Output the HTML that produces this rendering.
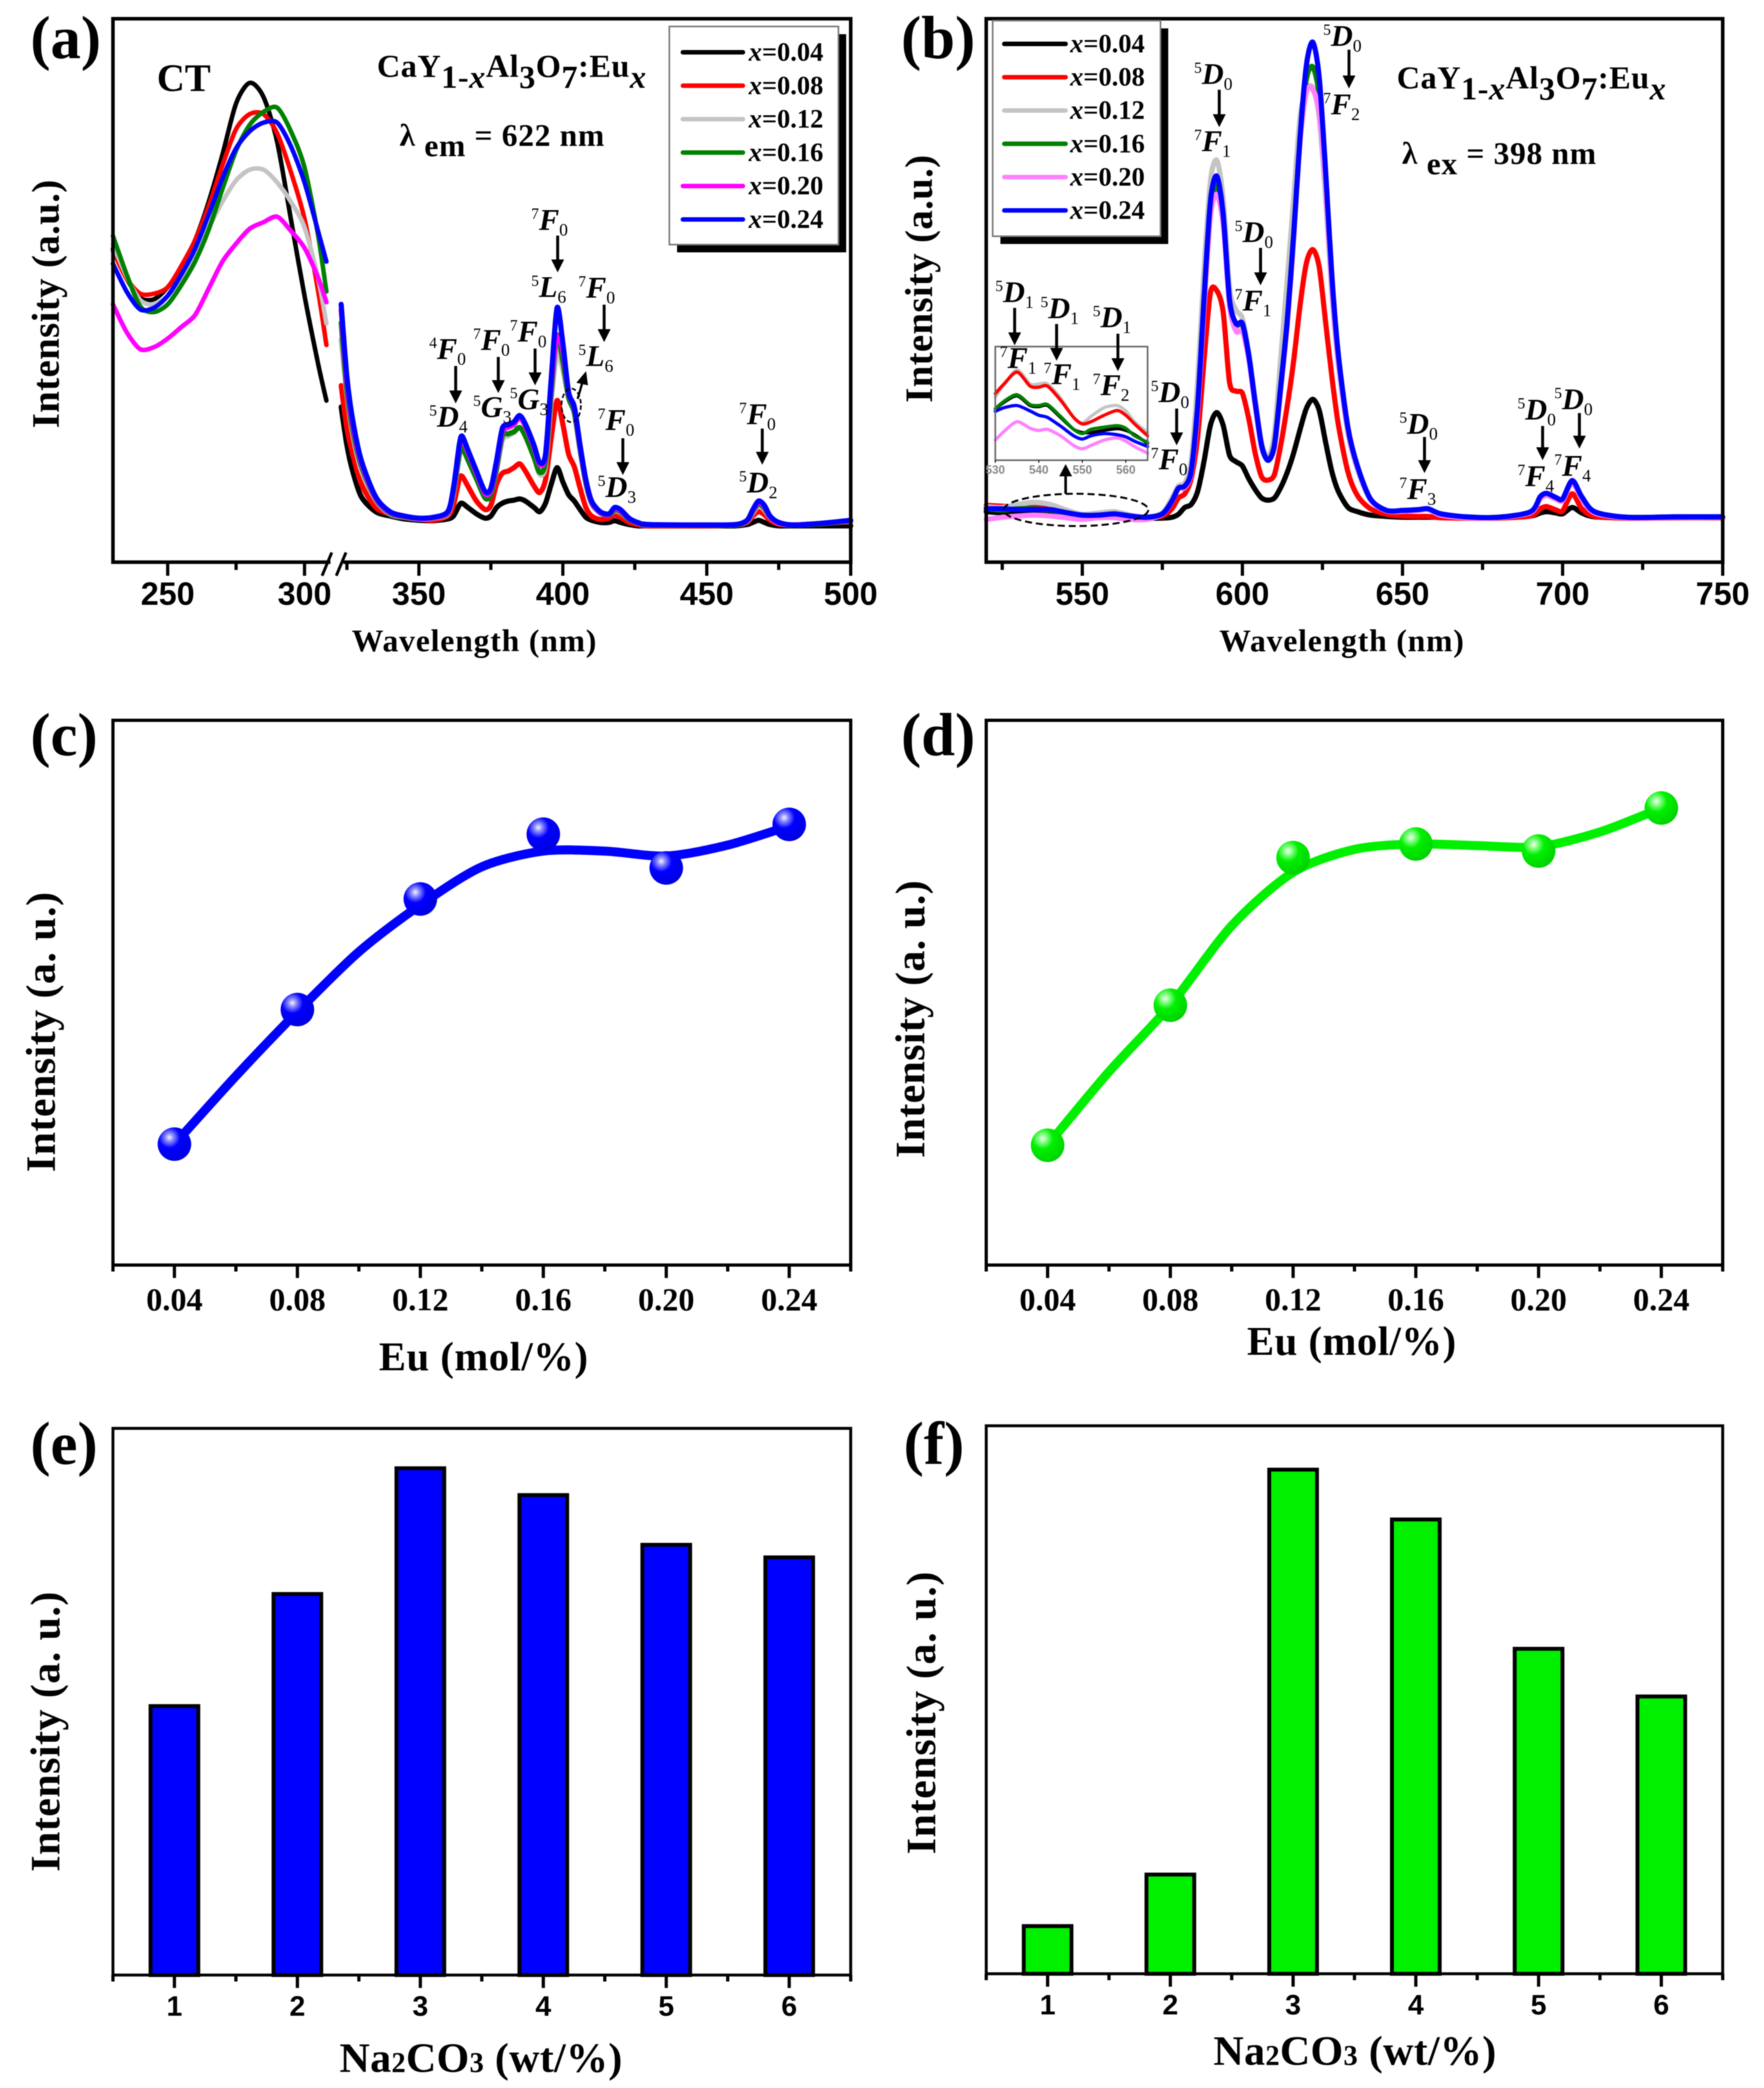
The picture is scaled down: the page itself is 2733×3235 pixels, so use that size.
<!DOCTYPE html>
<html lang="en">
<head>
<meta charset="utf-8">
<title>CaY1-xAl3O7:Eux luminescence figure</title>
<style>
html,body{margin:0;padding:0;background:#fff;width:2733px;height:3235px;overflow:hidden}
svg{display:block;filter:blur(0.9px)}
text{font-family:"Liberation Serif",serif;font-weight:bold;fill:#000;white-space:pre}
.sans{font-family:"Liberation Sans",sans-serif}
</style>
</head>
<body>
<svg id="figure" xmlns="http://www.w3.org/2000/svg" width="2733" height="3235" viewBox="0 0 2733 3235">
<defs>
<radialGradient id="ballBlue" cx="0.35" cy="0.3" r="0.75">
<stop offset="0" stop-color="#f4f4ff"/><stop offset="0.16" stop-color="#8c8cff"/><stop offset="0.42" stop-color="#0000ff"/><stop offset="1" stop-color="#0000dd"/>
</radialGradient>
<radialGradient id="ballGreen" cx="0.35" cy="0.3" r="0.75">
<stop offset="0" stop-color="#f4fff4"/><stop offset="0.16" stop-color="#8cff8c"/><stop offset="0.42" stop-color="#00f000"/><stop offset="1" stop-color="#00d000"/>
</radialGradient>
</defs>
</svg>
<script>
// ---------- shared series metadata ----------
const seriesLabels = ['0.04','0.08','0.12','0.16','0.20','0.24'];

// ---------- panel (a): excitation spectra ----------
const aTicksMajor = [250,300,350,400,450,500];
const aTicksMinor = [275,325,375,425,475];
const aWaveLeft = [230,235,240,245,250,255,260,265,270,275,280,285,290,295,300,305,308];
const aBlackLeft = [733,663,618,615,643,688,753,843,953,1073,1121,1088,983,803,623,463,378];
const aRedLeft = [728,663,628,628,643,693,753,833,928,1013,1048,1048,1003,913,803,633,508];
const aGrayLeft = [743,668,613,603,623,663,723,783,843,893,918,918,888,843,783,663,558];
const aGreenLeft = [763,673,598,585,603,648,703,778,873,963,1023,1053,1063,1008,923,763,633];
const aMagentaLeft = [603,538,498,503,523,550,578,640,703,745,780,795,808,775,735,665,608];
const aBlueLeft = [698,633,591,595,623,673,733,813,898,968,1008,1028,1028,973,888,773,703];
const aWaveRight = [323,325,327,330,335,340,345,350,355,360,362,364,365,367,370,373,375,377,379,381,383,385,387,390,392,394,396,398,400,402,404,406,408,410,413,416,418,420,423,426,430,450,460,464,466,468,470,472,475,480,490,500];
const aBlackRight = [363,273,213,153,118,108,101,98,97,101,108,133,138,128,113,103,108,128,138,143,145,148,143,128,118,138,183,221,188,158,143,123,105,98,93,93,97,93,88,85,85,85,85,88,93,98,93,88,85,85,85,85];
const aRedRight = [413,313,253,183,128,113,105,101,98,108,133,193,201,178,143,123,133,183,208,213,221,230,213,178,163,193,293,378,323,253,223,173,128,108,100,103,110,105,93,88,85,85,87,93,108,118,111,98,89,87,91,95];
const aGrayRight = [520,390,300,215,145,112,105,101,103,112,160,245,265,240,195,150,158,215,285,295,303,315,295,245,205,225,380,490,450,385,350,262,185,138,115,110,120,116,100,91,87,86,87,95,115,132,122,104,91,87,90,96];
const aGreenRight = [560,400,310,225,148,114,106,102,104,114,165,250,270,240,195,150,158,220,295,300,305,315,295,245,210,235,400,530,470,385,350,262,185,138,115,110,122,118,100,91,87,86,87,96,118,136,126,105,92,87,90,97];
const aMagentaRight = [590,420,322,232,150,116,107,102,104,116,170,268,288,258,208,160,168,232,305,315,322,338,318,268,228,248,420,525,495,395,360,268,190,140,116,112,126,120,102,92,88,87,88,97,120,140,130,106,92,87,91,97];
const aBlueRight = [603,433,333,238,153,118,108,103,105,118,173,273,295,263,213,165,173,238,313,321,328,343,323,273,233,253,433,595,513,398,363,273,193,143,118,113,128,123,103,93,88,87,88,98,123,143,133,108,93,87,91,98];

// ---------- panel (b): emission spectra ----------
const bTicksMajor = [550,600,650,700,750];
const bTicksMinor = [525,575,625,675,725];
const bWave = [520,525,530,535,540,545,550,555,560,565,570,575,578,580,582,584,586,588,590,592,594,596,598,600,602,604,606,608,610,612,614,616,618,620,622,624,626,628,630,633,636,640,645,650,655,658,662,670,680,690,693,695,698,700,703,706,710,720,735,750];
const bBlack = [118,115,112,112,110,108,106,106,106,105,103,103,105,112,128,135,165,235,320,350,320,250,235,225,195,170,150,145,150,175,210,255,310,360,381,355,280,210,165,128,118,110,107,105,105,105,105,104,104,108,115,118,115,113,128,115,106,104,104,104];
const bRed = [133,131,128,128,124,116,110,110,113,108,105,108,125,150,160,195,290,470,630,635,585,420,400,395,335,255,200,192,205,275,365,470,600,700,731,690,560,430,320,210,155,125,112,108,107,107,104,103,103,108,125,130,122,120,160,125,107,103,104,104];
const bGray = [130,128,135,140,135,122,112,115,118,110,105,115,150,178,185,235,420,680,890,940,850,640,590,570,490,380,280,245,300,480,660,850,1040,1105,1110,1040,850,620,460,300,215,145,120,120,122,124,112,105,105,116,150,158,148,145,185,150,116,105,106,106];
const bGreen = [125,122,125,125,122,114,108,108,112,107,105,112,142,172,176,210,355,600,825,880,800,605,555,555,480,370,270,240,275,415,565,765,990,1130,1158,1090,890,650,475,310,222,147,120,120,122,124,112,105,105,117,150,158,150,146,188,150,117,105,106,106];
const bMagenta = [100,105,108,110,108,104,100,104,104,100,100,112,142,172,175,208,350,590,810,860,790,600,540,540,475,365,268,240,270,405,555,755,985,1100,1105,1050,880,640,470,308,220,146,120,119,121,123,110,104,104,116,148,156,147,144,185,148,115,104,105,105];
const bBlue = [125,125,123,123,123,116,110,110,113,108,105,113,143,173,178,213,363,613,843,903,813,613,558,558,483,373,273,238,273,413,563,763,993,1163,1216,1133,913,663,483,313,223,148,121,121,123,125,113,106,105,118,153,161,151,148,191,153,118,105,106,106];

// ---------- panel (b) inset ----------
const insetTickLabels = [530,540,550,560];
const insetWave = [530,532,535,538,540,542,545,548,550,552,555,558,560,562,565];
const insetGray = [293,348,418,353,353,353,288,198,173,203,243,253,228,178,128];
const insetRed = [308,353,408,343,338,343,278,198,168,178,208,230,208,168,113];
const insetBlack = [238,268,298,253,248,253,198,143,128,128,138,146,138,118,78];
const insetGreen = [238,273,303,258,253,258,203,143,123,143,153,160,148,113,83];
const insetMagenta = [93,133,178,148,138,143,113,68,53,68,93,103,88,63,33];
const insetBlue = [226,243,253,228,208,198,158,113,98,113,123,118,108,88,63];

// ---------- panels (c) and (d): intensity vs Eu ----------
const euTickLabels = ['0.04','0.08','0.12','0.16','0.20','0.24'];
const euValues = [0.04,0.08,0.12,0.16,0.20,0.24];
const euMinor = [0.02,0.06,0.10,0.14,0.18,0.22,0.26];
const cMarkers = [0.222,0.469,0.672,0.791,0.729,0.809];
const dMarkers = [0.22,0.477,0.748,0.773,0.760,0.839];
const fitX = [0.04,0.06,0.08,0.10,0.12,0.14,0.16,0.18,0.20,0.22,0.24];
const cFit = [0.222,0.347,0.465,0.575,0.661,0.731,0.760,0.760,0.751,0.771,0.806];
const dFit = [0.22,0.355,0.477,0.623,0.721,0.763,0.773,0.770,0.768,0.795,0.839];

// ---------- panels (e) and (f): intensity vs Na2CO3 ----------
const naCategories = [1,2,3,4,5,6];
const naMinor = [0.5,1.5,2.5,3.5,4.5,5.5,6.5];
const eBars = [0.492,0.697,0.927,0.878,0.787,0.764];
const fBars = [0.087,0.181,0.920,0.829,0.593,0.506];

// ---------- drawing ----------
const NS = 'http://www.w3.org/2000/svg';
const svg = document.getElementById('figure');

function mk(parent, tag, attrs, name) {
  const el = document.createElementNS(NS, tag);
  for (const k in attrs) el.setAttribute(k, attrs[k]);
  
  
  parent.appendChild(el);
  return el;
}
function group(name) { return mk(svg, 'g', {}, name); }
function txt(parent, x, y, str, attrs, name) {
  const el = mk(parent, 'text', Object.assign({x: x, y: y}, attrs), name);
  el.textContent = str;
  return el;
}
function smooth(pts) {
  let d = 'M' + pts[0][0].toFixed(1) + ' ' + pts[0][1].toFixed(1);
  for (let i = 0; i < pts.length - 1; i++) {
    const p0 = pts[Math.max(0, i - 1)], p1 = pts[i], p2 = pts[i + 1], p3 = pts[Math.min(pts.length - 1, i + 2)];
    const k = 0.14;
    d += ' C' + (p1[0] + (p2[0] - p0[0]) * k).toFixed(1) + ' ' + (p1[1] + (p2[1] - p0[1]) * k).toFixed(1) + ' ' +
      (p2[0] - (p3[0] - p1[0]) * k).toFixed(1) + ' ' + (p2[1] - (p3[1] - p1[1]) * k).toFixed(1) + ' ' +
      p2[0].toFixed(1) + ' ' + p2[1].toFixed(1);
  }
  return d;
}
function curve(parent, xs, ys, xf, yf, color, width, name) {
  const pts = xs.map((v, i) => [xf(v), yf(ys[i])]);
  return mk(parent, 'path', {d: smooth(pts), fill: 'none', stroke: color, 'stroke-width': width, 'stroke-linejoin': 'round', 'stroke-linecap': 'round'}, name);
}
function frame(parent, f, w) {
  mk(parent, 'rect', {x: f.l, y: f.t, width: f.r - f.l, height: f.b - f.t, fill: 'none', stroke: '#000', 'stroke-width': w}, 'plot-frame');
}
function tick(parent, x, y, len, w, name) {
  mk(parent, 'line', {x1: x, x2: x, y1: y, y2: y + len, stroke: '#000', 'stroke-width': w}, name);
}
function yTitle(parent, x, cy, len, str, size) {
  const el = txt(parent, x, cy, str, {'font-size': size, 'text-anchor': 'middle', textLength: len, transform: 'rotate(-90 ' + x + ' ' + cy + ')'}, 'y-axis-title');
  return el;
}
function arrowDown(parent, x, y1, y2) {
  const g = mk(parent, 'g', {}, 'annotation-arrow');
  mk(g, 'line', {x1: x, x2: x, y1: y1, y2: y2 - 15, stroke: '#000', 'stroke-width': 4.5}, 'arrow-shaft');
  mk(g, 'polygon', {points: (x - 10) + ',' + (y2 - 20) + ' ' + (x + 10) + ',' + (y2 - 20) + ' ' + x + ',' + y2, fill: '#000'}, 'arrow-head');
}
function term(parent, x, y, sup, letter, sub) {
  const el = mk(parent, 'text', {x: x, y: y}, 'transition-label');
  const a = mk(el, 'tspan', {'font-size': 24, dy: -17, 'font-weight': 'normal'}, 'term-multiplicity');
  a.textContent = sup;
  const b = mk(el, 'tspan', {'font-size': 47, 'font-style': 'italic', dy: 17}, 'term-letter');
  b.textContent = letter;
  const c = mk(el, 'tspan', {'font-size': 27, dy: 9, 'font-weight': 'normal'}, 'term-index');
  c.textContent = sub;
}
function runs(parent, x, y, size, parts, spacing, name) {
  const el = mk(parent, 'text', {x: x, y: y, 'font-size': size, 'letter-spacing': spacing}, name);
  let cur = 0;
  parts.forEach(p => {
    const t = mk(el, 'tspan', {dy: (p.d || 0) - cur}, 'text-run');
    if (p.i) t.setAttribute('font-style', 'italic');
    t.textContent = p.s;
    cur = p.d || 0;
  });
  return el;
}
function legend(parent, box, colors, lineX1, lineX2, textX, rowY0, rowStep) {
  const g = mk(parent, 'g', {}, 'legend');
  mk(g, 'rect', {x: box.l + 12, y: box.t + 12, width: box.r - box.l, height: box.b - box.t, fill: '#000'}, 'legend-shadow');
  mk(g, 'rect', {x: box.l, y: box.t, width: box.r - box.l, height: box.b - box.t, fill: '#fff', stroke: '#777', 'stroke-width': 2.5}, 'legend-box');
  seriesLabels.forEach((lab, i) => {
    const y = rowY0 + i * rowStep;
    const e = mk(g, 'g', {}, 'legend-entry');
    mk(e, 'line', {x1: lineX1, x2: lineX2, y1: y, y2: y, stroke: colors[i], 'stroke-width': 7, 'stroke-linecap': 'round'}, 'legend-line');
    const t = mk(e, 'text', {x: textX, y: y + 13, 'font-size': 41}, 'legend-label');
    const a = mk(t, 'tspan', {'font-style': 'italic'}, 'legend-variable');
    a.textContent = 'x';
    const b = mk(t, 'tspan', {}, 'legend-value');
    b.textContent = '=' + lab;
  });
}

// --- panel a ---
(function () {
  const f = {l: 175, r: 1318, t: 29, b: 871};
  const g = group('panel-a');
  const xA = w => w <= 310 ? f.l + (w - 230) * 4.24 : f.r - (500 - w) * 4.46;
  const yA = v => f.b - v * (f.b - f.t) / 1271;
  const colors = ['#000000','#ff0000','#c4c4c4','#008000','#ff00ff','#0000ff'];
  const left = [aBlackLeft, aRedLeft, aGrayLeft, aGreenLeft, aMagentaLeft, aBlueLeft];
  const right = [aBlackRight, aRedRight, aGrayRight, aGreenRight, aMagentaRight, aBlueRight];
  left.forEach((s, i) => curve(g, aWaveLeft, s, xA, yA, colors[i], 7, 'excitation-ct-band-x-' + seriesLabels[i]));
  right.forEach((s, i) => curve(g, aWaveRight, s, xA, yA, colors[i], 8, 'excitation-lines-x-' + seriesLabels[i]));
  frame(g, f, 5.5);
  aTicksMajor.forEach(v => {
    tick(g, xA(v), f.b, 21, 5, 'x-major-tick');
    txt(g, xA(v), 937, String(v), {'font-size': 50, 'text-anchor': 'middle', class: 'sans'}, 'x-tick-label');
  });
  aTicksMinor.forEach(v => tick(g, xA(v), f.b, 12, 5, 'x-minor-tick'));
  mk(g, 'rect', {x: 512, y: f.b - 5, width: 20, height: 10, fill: '#fff'}, 'axis-break-gap');
  mk(g, 'line', {x1: 499, y1: 892, x2: 514, y2: 856, stroke: '#000', 'stroke-width': 4.5}, 'axis-break-slash');
  mk(g, 'line', {x1: 521, y1: 892, x2: 536, y2: 856, stroke: '#000', 'stroke-width': 4.5}, 'axis-break-slash');
  txt(g, 47, 90, '(a)', {'font-size': 94}, 'panel-label');
  txt(g, 243, 141, 'CT', {'font-size': 60}, 'ct-band-label');
  yTitle(g, 91, 471, 385, 'Intensity (a.u.)', 60);
  txt(g, 545, 1009, 'Wavelength (nm)', {'font-size': 49, textLength: 379}, 'x-axis-title');
  runs(g, 584, 119, 50, [{s:'CaY'},{s:'1-',d:17},{s:'x',d:17,i:1},{s:'Al'},{s:'3',d:17},{s:'O'},{s:'7',d:17},{s:':Eu'},{s:'x',d:17,i:1}], 0.8, 'phosphor-formula');
  runs(g, 619, 226, 49, [{s:'λ'},{s:' em',d:16},{s:' = 622 nm'}], 1, 'emission-wavelength-note');
  legend(g, {l: 1037, r: 1299, t: 41, b: 379}, colors, 1058, 1151, 1160, 81, 51.8);
  term(g, 823, 356, '7', 'F', '0'); arrowDown(g, 864, 365, 422); term(g, 823, 460, '5', 'L', '6');
  term(g, 896, 461, '7', 'F', '0'); arrowDown(g, 936, 472, 530); term(g, 896, 567, '5', 'L', '6');
  term(g, 665, 556, '4', 'F', '0'); arrowDown(g, 706, 567, 625); term(g, 665, 661, '5', 'D', '4');
  term(g, 733, 542, '7', 'F', '0'); arrowDown(g, 772, 553, 609); term(g, 733, 646, '5', 'G', '3');
  term(g, 790, 529, '7', 'F', '0'); arrowDown(g, 829, 540, 597); term(g, 790, 634, '5', 'G', '3');
  term(g, 926, 666, '7', 'F', '0'); arrowDown(g, 965, 679, 736); term(g, 926, 770, '5', 'D', '3');
  term(g, 1145, 657, '7', 'F', '0'); arrowDown(g, 1181, 664, 720); term(g, 1145, 763, '5', 'D', '2');
  mk(g, 'ellipse', {cx: 885, cy: 628, rx: 15, ry: 26, fill: 'none', stroke: '#000', 'stroke-width': 2.5, 'stroke-dasharray': '7 4'}, 'shoulder-highlight-ellipse');
  mk(g, 'line', {x1: 895, y1: 618, x2: 903, y2: 590, stroke: '#000', 'stroke-width': 3.5}, 'shoulder-arrow-shaft');
  mk(g, 'polygon', {points: '908,575 893,593 911,597', fill: '#000'}, 'shoulder-arrow-head');
})();

// --- panel b ---
(function () {
  const f = {l: 1528, r: 2669, t: 29, b: 871};
  const g = group('panel-b');
  const xB = w => f.l + (w - 520) * (f.r - f.l) / 230;
  const yB = v => f.b - v * (f.b - f.t) / 1271;
  const colors = ['#000000','#ff0000','#c4c4c4','#008000','#ff80ff','#0000ff'];
  [bBlack, bRed, bGray, bGreen, bMagenta, bBlue].forEach((s, i) => curve(g, bWave, s, xB, yB, colors[i], 8, 'emission-spectrum-x-' + seriesLabels[i]));
  frame(g, f, 5.5);
  bTicksMajor.forEach(v => {
    tick(g, xB(v), f.b, 21, 5, 'x-major-tick');
    txt(g, xB(v), 937, String(v), {'font-size': 50, 'text-anchor': 'middle', class: 'sans'}, 'x-tick-label');
  });
  bTicksMinor.forEach(v => tick(g, xB(v), f.b, 12, 5, 'x-minor-tick'));
  txt(g, 1396, 90, '(b)', {'font-size': 94}, 'panel-label');
  yTitle(g, 1444, 432, 384, 'Intensity (a.u.)', 60);
  txt(g, 1889, 1009, 'Wavelength (nm)', {'font-size': 49, textLength: 379}, 'x-axis-title');
  runs(g, 2164, 137, 50, [{s:'CaY'},{s:'1-',d:17},{s:'x',d:17,i:1},{s:'Al'},{s:'3',d:17},{s:'O'},{s:'7',d:17},{s:':Eu'},{s:'x',d:17,i:1}], 0.8, 'phosphor-formula');
  runs(g, 2172, 254, 49, [{s:'λ'},{s:' ex',d:16},{s:' = 398 nm'}], 1, 'excitation-wavelength-note');
  legend(g, {l: 1538, r: 1798, t: 32, b: 366}, colors, 1556, 1651, 1658, 68, 51.6);

  // inset
  const ins = mk(g, 'g', {}, 'inset-chart');
  const ib = {l: 1542, r: 1778, t: 537, b: 713};
  const xI = w => ib.l + (w - 530) * (ib.r - ib.l) / 35;
  const yI = v => ib.b - v * (ib.b - ib.t) / 526;
  const insetColors = ['#c4c4c4','#ff0000','#000000','#008000','#ff80ff','#0000ff'];
  [insetGray, insetRed, insetBlack, insetGreen, insetMagenta, insetBlue].forEach((s, i) => curve(ins, insetWave, s, xI, yI, insetColors[i], 5, 'inset-spectrum'));
  mk(ins, 'rect', {x: ib.l, y: ib.t, width: ib.r - ib.l, height: ib.b - ib.t, fill: 'none', stroke: '#666', 'stroke-width': 2.5}, 'inset-frame');
  insetTickLabels.forEach(v => {
    tick(ins, xI(v), ib.b, 4, 1.5, 'inset-tick');
    txt(ins, xI(v), 734, String(v), {'font-size': 18, 'text-anchor': 'middle', class: 'sans', style: 'fill:#888'}, 'inset-tick-label');
  });

  term(g, 2050, 71, '5', 'D', '0'); arrowDown(g, 2090, 77, 137); term(g, 2050, 177, '7', 'F', '2');
  term(g, 1850, 130, '5', 'D', '0'); arrowDown(g, 1889, 139, 197); term(g, 1850, 234, '7', 'F', '1');
  term(g, 1913, 375, '5', 'D', '0'); arrowDown(g, 1953, 384, 442); term(g, 1913, 481, '7', 'F', '1');
  term(g, 1542, 468, '5', 'D', '1'); arrowDown(g, 1572, 477, 535); term(g, 1549, 570, '7', 'F', '1');
  term(g, 1612, 493, '5', 'D', '1'); arrowDown(g, 1637, 502, 559); term(g, 1617, 595, '7', 'F', '1');
  term(g, 1693, 507, '5', 'D', '1'); arrowDown(g, 1732, 517, 575); term(g, 1693, 612, '7', 'F', '2');
  term(g, 1783, 623, '5', 'D', '0'); arrowDown(g, 1823, 633, 690); term(g, 1783, 727, '7', 'F', '0');
  term(g, 2168, 672, '5', 'D', '0'); arrowDown(g, 2207, 677, 733); term(g, 2168, 773, '7', 'F', '3');
  term(g, 2351, 650, '5', 'D', '0'); arrowDown(g, 2390, 660, 713); term(g, 2351, 753, '7', 'F', '4');
  term(g, 2408, 634, '5', 'D', '0'); arrowDown(g, 2447, 640, 695); term(g, 2408, 737, '7', 'F', '4');
  mk(g, 'ellipse', {cx: 1667, cy: 790, rx: 112, ry: 25, fill: 'none', stroke: '#000', 'stroke-width': 3, 'stroke-dasharray': '11 6'}, 'region-highlight-ellipse');
  mk(g, 'line', {x1: 1651, y1: 765, x2: 1651, y2: 735, stroke: '#000', 'stroke-width': 4}, 'inset-arrow-shaft');
  mk(g, 'polygon', {points: '1651,719 1641,738 1661,738', fill: '#000'}, 'inset-arrow-head');
})();

// --- panels c, d ---
function euPanel(name, f, markers, fit, color, ball, label, labelX, labelY, yX, yC, yLen, xTitleX, xTitleY) {
  const g = group(name);
  const xE = v => f.l + (v - 0.02) * (f.r - f.l) / 0.24;
  const yE = v => f.b - v * (f.b - f.t);
  frame(g, f, 5);
  curve(g, fitX, fit, xE, yE, color, 14, 'intensity-fit-curve');
  euValues.forEach((v, i) => {
    mk(g, 'circle', {cx: xE(v), cy: yE(markers[i]), r: 26, fill: 'url(#' + ball + ')'}, 'intensity-marker');
    tick(g, xE(v), f.b, 20, 5, 'x-major-tick');
    txt(g, xE(v), f.b + 70, euTickLabels[i], {'font-size': 50, 'text-anchor': 'middle'}, 'x-tick-label');
  });
  euMinor.forEach(v => tick(g, xE(v), f.b, 10, 5, 'x-minor-tick'));
  txt(g, labelX, labelY, label, {'font-size': 94}, 'panel-label');
  yTitle(g, yX, yC, yLen, 'Intensity (a. u.)', 65);
  txt(g, xTitleX, xTitleY, 'Eu (mol/%)', {'font-size': 63, textLength: 324}, 'x-axis-title');
}
euPanel('panel-c', {l: 175, r: 1318, t: 1116, b: 1960}, cMarkers, cFit, '#0000ff', 'ballBlue', '(c)', 47, 1170, 85, 1599, 434, 587, 2123);
euPanel('panel-d', {l: 1528, r: 2669, t: 1116, b: 1960}, dMarkers, dFit, '#00f000', 'ballGreen', '(d)', 1396, 1170, 1432, 1579, 430, 1932, 2099);

// --- panels e, f ---
function naPanel(name, f, bars, color, label, labelX, labelY, yX, yC, yLen, xTitleX, xTitleY) {
  const g = group(name);
  const xN = v => f.l + (v - 0.5) * (f.r - f.l) / 6;
  const yN = v => f.b - v * (f.b - f.t);
  naCategories.forEach((c, i) => {
    mk(g, 'rect', {x: xN(c) - 37, y: yN(bars[i]), width: 74, height: f.b - yN(bars[i]), fill: color, stroke: '#000', 'stroke-width': 6}, 'bar-' + c);
    tick(g, xN(c), f.b, 20, 5, 'x-major-tick');
    txt(g, xN(c), f.b + 63, String(c), {'font-size': 44, 'text-anchor': 'middle', class: 'sans'}, 'x-tick-label');
  });
  frame(g, f, 4.5);
  naMinor.forEach(v => tick(g, xN(v), f.b, 10, 5, 'x-minor-tick'));
  txt(g, labelX, labelY, label, {'font-size': 94}, 'panel-label');
  yTitle(g, yX, yC, yLen, 'Intensity (a. u.)', 65);
  runs(g, xTitleX, xTitleY, 65, [{s:'Na'},{s:'2'},{s:'CO'},{s:'3'},{s:' (wt/%)'}], 0.5, 'x-axis-title').querySelectorAll('tspan').forEach((t, i) => {
    if (i === 1 || i === 3) t.setAttribute('font-size', 44);
  });
}
naPanel('panel-e', {l: 175, r: 1318, t: 2213, b: 3060}, eBars, '#0000ff', '(e)', 47, 2268, 92, 2683, 434, 526, 3210);
naPanel('panel-f', {l: 1528, r: 2669, t: 2209, b: 3058}, fBars, '#00f000', '(f)', 1400, 2268, 1449, 2654, 438, 1880, 3199);
</script>
</body>
</html>
